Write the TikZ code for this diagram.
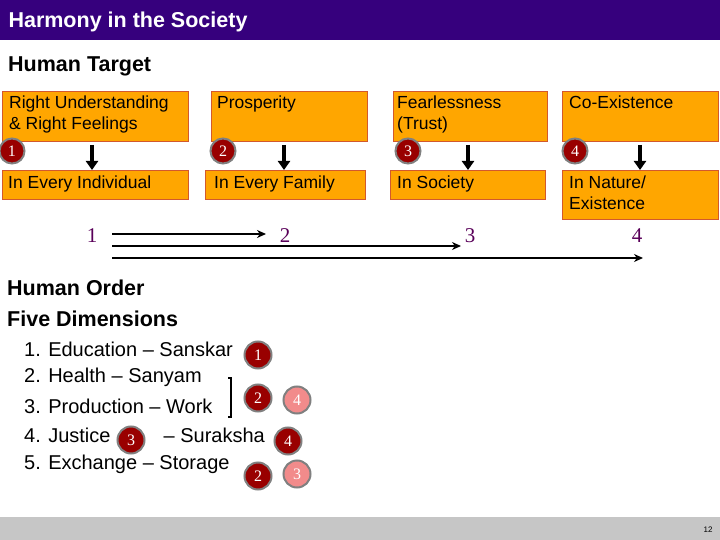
\documentclass[tikz,border=0pt]{standalone}
\usepackage{fontspec}
\usetikzlibrary{arrows.meta}
\setmainfont{Liberation Sans}
\newfontfamily\serifnum{Liberation Serif}
\begin{document}
\begin{tikzpicture}[x=1pt,y=-1pt,
 box/.style={draw=brown!70!red,fill=orange!70!yellow,line width=1pt},
 btxt/.style={anchor=north west,inner sep=0pt,font=\fontsize{17.5}{21}\selectfont,align=left},
 num/.style={circle,draw=gray,line width=2pt,fill=red!60!black,text=white,minimum size=25pt,inner sep=0pt,font=\serifnum\fontsize{16}{16}\selectfont},
 pnum/.style={num,fill=red!45!white!90!gray},
 dn/.style={-{Triangle[length=9pt,width=12pt]},line width=4pt},
 ar/.style={-{Stealth[length=9pt,width=8pt]},line width=2pt},
 pur/.style={text=violet!70!black,font=\serifnum\fontsize{21}{21}\selectfont},
 li/.style={anchor=west,inner sep=0pt,font=\fontsize{20}{22}\selectfont}]
\useasboundingbox (0,0) rectangle (720,540);
\fill[violet!60!blue!70!black] (0,0) rectangle (720,40);
\node[anchor=west,text=white,font=\bfseries\fontsize{21.5}{24}\selectfont] (title) at (5,22) {Harmony in the Society};
\fill[gray!45] (0,517) rectangle (720,540);
\node[font=\fontsize{8}{9}\selectfont] (pg) at (708,530) {12};
\node[anchor=west,inner sep=0pt,font=\bfseries\fontsize{21.5}{24}\selectfont] (ht) at (8,66) {Human Target};
% top boxes
\draw[box] (2,92) rectangle (188,142); \node[btxt] (t1) at (9,96) {Right Understanding\\\& Right Feelings};
\draw[box] (211,92) rectangle (367,142); \node[btxt] (t2) at (217,96) {Prosperity};
\draw[box] (393,92) rectangle (547,142); \node[btxt] (t3) at (397,96) {Fearlessness\\(Trust)};
\draw[box] (562,92) rectangle (718,142); \node[btxt] (t4) at (569,96) {Co-Existence};
\draw[box] (2,171) rectangle (188,200); \node[btxt] (b1) at (8,176) {In Every Individual};
\draw[box] (205,171) rectangle (365,200); \node[btxt] (b2) at (214,176) {In Every Family};
\draw[box] (390,171) rectangle (545,200); \node[btxt] (b3) at (397,176) {In Society};
\draw[box] (562,171) rectangle (718,220); \node[btxt] (b4) at (569,176) {In Nature/\\Existence};
\coordinate (d1a) at (92,145); \coordinate (d1b) at (92,170); \draw[dn] (d1a) -- (d1b);
\coordinate (d2a) at (284,145); \coordinate (d2b) at (284,170); \draw[dn] (d2a) -- (d2b);
\coordinate (d3a) at (468,145); \coordinate (d3b) at (468,170); \draw[dn] (d3a) -- (d3b);
\coordinate (d4a) at (640,145); \coordinate (d4b) at (640,170); \draw[dn] (d4a) -- (d4b);
\node[num] (c1) at (12,151) {1};
\node[num] (c2) at (223,151) {2};
\node[num] (c3) at (408,151) {3};
\node[num] (c4) at (575,151) {4};
\node[pur] (n1) at (92,236) {1};
\node[pur] (n2) at (285,236) {2};
\node[pur] (n3) at (470,236) {3};
\node[pur] (n4) at (637,236) {4};
\coordinate (s1) at (112,234); \coordinate (e1) at (266,234); \draw[ar] (s1) -- (e1);
\coordinate (s2) at (112,246); \coordinate (e2) at (461,246); \draw[ar] (s2) -- (e2);
\coordinate (s3) at (112,258); \coordinate (e3) at (643,258); \draw[ar] (s3) -- (e3);
\node[anchor=west,inner sep=0pt,font=\bfseries\fontsize{21.5}{24}\selectfont] (ho) at (7,288) {Human Order};
\node[anchor=west,inner sep=0pt,font=\bfseries\fontsize{21.5}{24}\selectfont] (fd) at (7,319) {Five Dimensions};
\node[li] (l1) at (24,349) {1. Education -- Sanskar};
\node[li] (l2) at (24,377) {2. Health -- Sanyam};
\node[li] (l3) at (24,406) {3. Production -- Work};
\node[li] (l4) at (24,435) {4. Justice \hspace{42pt} -- Suraksha};
\node[li] (l5) at (24,464) {5. Exchange -- Storage};
\draw[line width=1.3pt] (228,378) -- (231,378) -- (231,417) -- (228,417);
\node[num,minimum size=27pt] (o1) at (258,355) {1};
\node[num,minimum size=27pt] (o2) at (258,398) {2};
\node[pnum,minimum size=27pt] (o3) at (297,400) {4};
\node[num,minimum size=27pt] (o4) at (131,440) {3};
\node[num,minimum size=27pt] (o5) at (288,441) {4};
\node[num,minimum size=27pt] (o6) at (258,476) {2};
\node[pnum,minimum size=27pt] (o7) at (297,474) {3};
\end{tikzpicture}
\end{document}
